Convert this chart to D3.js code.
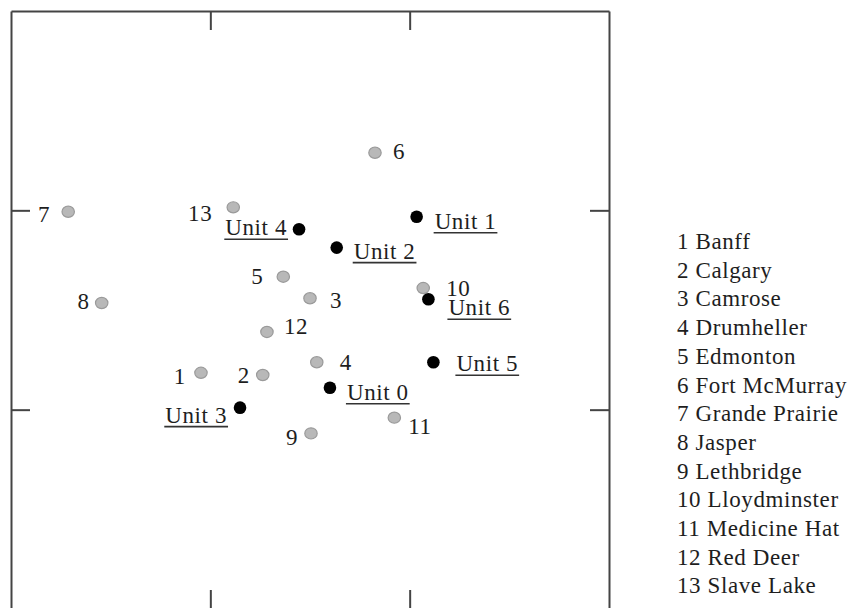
<!DOCTYPE html>
<html>
<head>
<meta charset="utf-8">
<script src="https://cdn.jsdelivr.net/npm/d3@7"></script>
<style>
  html, body { margin: 0; padding: 0; background: #fff; }
  svg { display: block; }
  text { font-family: "Liberation Serif", "Times New Roman", serif; fill: #1e1e1e; letter-spacing: 0.6px; }
</style>
</head>
<body>
<svg id="chart" width="854" height="608"></svg>
<script>
// ---- data ----
const cityIds   = [1, 2, 3, 4, 5, 6, 7, 8, 9, 10, 11, 12, 13];
const cityNames = ["Banff", "Calgary", "Camrose", "Drumheller", "Edmonton", "Fort McMurray",
                   "Grande Prairie", "Jasper", "Lethbridge", "Lloydminster", "Medicine Hat",
                   "Red Deer", "Slave Lake"];
const cityX = [-0.547, -0.237, 0.000, 0.034, -0.134, 0.326, -1.213, -1.045, 0.005, 0.568, 0.423, -0.216, -0.385];
const cityY = [-0.315, -0.326, 0.059, -0.262, 0.167, 0.789, 0.493, 0.035, -0.619, 0.110, -0.540, -0.110, 0.515];

const unitNames = ["Unit 0", "Unit 1", "Unit 2", "Unit 3", "Unit 4", "Unit 5", "Unit 6"];
const unitX = [0.100, 0.535, 0.134, -0.351, -0.055, 0.619, 0.594];
const unitY = [-0.390, 0.468, 0.313, -0.490, 0.405, -0.262, 0.054];

const tickValues = [-0.5, 0.5];
const axisDomain = [-1.5, 1.5];

// ---- layout (label placement, not data) ----
const cityLabelPos = [
  [-15, 11, "end"], [-13, 8, "end"], [20, 10, "start"], [23, 8, "start"], [-20, 7, "end"],
  [18, 6, "start"], [-18, 10, "end"], [-12, 6, "end"], [-13, 12, "end"], [23, 8, "start"],
  [14, 16, "start"], [17, 2, "start"], [-21, 14, "end"]
];
const unitLabelPos = [
  [17, 12, "start"], [18, 12, "start"], [17, 11, "start"], [-13, 15, "end"],
  [-12, 6, "end"], [23, 9, "start"], [20, 16, "start"]
];

const svg = d3.select("#chart");
const L = 11, R = 609, T = 11, B = 609;

const x = d3.scaleLinear().domain(axisDomain).range([L, R]);
const y = d3.scaleLinear().domain(axisDomain).range([B, T]);

// frame + inward ticks
const axisColor = "#444";
function styleAxis(g) {
  g.selectAll("path.domain").attr("stroke", axisColor).attr("stroke-width", 2);
  g.selectAll(".tick line").attr("stroke", axisColor).attr("stroke-width", 2);
  g.selectAll(".tick text").remove();
}
svg.append("g").attr("transform", `translate(0,${T})`)
  .call(d3.axisTop(x).tickValues(tickValues).tickSizeInner(-19).tickSizeOuter(0).tickFormat(""))
  .call(styleAxis);
svg.append("g").attr("transform", `translate(0,${B})`)
  .call(d3.axisBottom(x).tickValues(tickValues).tickSizeInner(-19).tickSizeOuter(0).tickFormat(""))
  .call(styleAxis);
svg.append("g").attr("transform", `translate(${L},0)`)
  .call(d3.axisLeft(y).tickValues(tickValues).tickSizeInner(-19).tickSizeOuter(0).tickFormat(""))
  .call(styleAxis);
svg.append("g").attr("transform", `translate(${R},0)`)
  .call(d3.axisRight(y).tickValues(tickValues).tickSizeInner(-19).tickSizeOuter(0).tickFormat(""))
  .call(styleAxis);

const cities = cityIds.map((id, i) => ({ id, name: cityNames[i], x: cityX[i], y: cityY[i], pos: cityLabelPos[i] }));
const units = unitNames.map((n, i) => ({ name: n, x: unitX[i], y: unitY[i], pos: unitLabelPos[i] }));

// city points
svg.append("g").selectAll("ellipse").data(cities).join("ellipse")
  .attr("cx", d => x(d.x)).attr("cy", d => y(d.y))
  .attr("rx", 6.2).attr("ry", 5.6)
  .attr("fill", "#b8b8b8").attr("stroke", "#9a9a9a").attr("stroke-width", 1.2);

svg.append("g").selectAll("text").data(cities).join("text")
  .attr("x", d => x(d.x) + d.pos[0]).attr("y", d => y(d.y) + d.pos[1])
  .attr("text-anchor", d => d.pos[2])
  .attr("font-size", 23)
  .text(d => d.id);

// unit points
svg.append("g").selectAll("circle").data(units).join("circle")
  .attr("cx", d => x(d.x)).attr("cy", d => y(d.y))
  .attr("r", 6.3).attr("fill", "#000");

const ul = svg.append("g");
svg.append("g").selectAll("text").data(units).join("text")
  .attr("x", d => x(d.x) + d.pos[0]).attr("y", d => y(d.y) + d.pos[1])
  .attr("text-anchor", d => d.pos[2])
  .attr("font-size", 23)
  .text(d => d.name)
  .each(function() {
    const b = this.getBBox();
    const base = +this.getAttribute("y");
    ul.append("line")
      .attr("x1", b.x - 1).attr("x2", b.x + b.width + 1)
      .attr("y1", base + 4).attr("y2", base + 4)
      .attr("stroke", "#333").attr("stroke-width", 1.6);
  });

// legend
svg.append("g").selectAll("text").data(cities).join("text")
  .attr("x", 677)
  .attr("y", (d, i) => 249 + i * 28.7)
  .attr("font-size", 23)
  .text(d => `${d.id} ${d.name}`);
</script>
</body>
</html>
